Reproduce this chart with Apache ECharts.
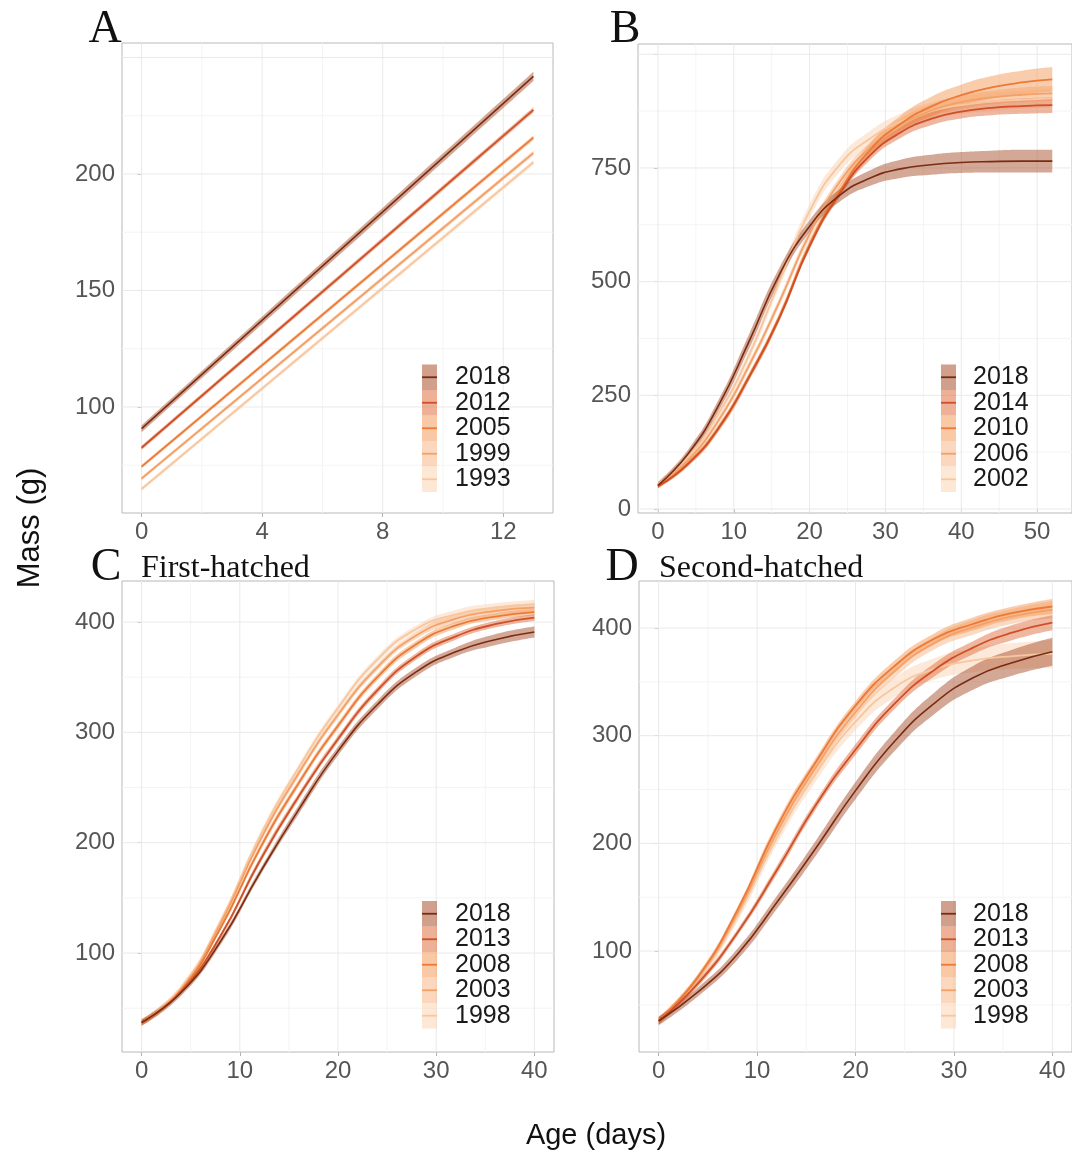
<!DOCTYPE html>
<html>
<head>
<meta charset="utf-8">
<script src="https://cdn.jsdelivr.net/npm/echarts@6/dist/echarts.min.js"></script>
<style>
  html, body { margin: 0; padding: 0; background: #ffffff; }
  #chart { width: 1072px; height: 1154px; }
</style>
</head>
<body>
<div id="chart"></div>
<script>
// Chick growth curves: body mass (g) against age (days), one fitted curve
// per year with its confidence band, in four panels.

// ---- Panel A (linear growth, 0-13 days) ----
const daysA = [0, 13];
const yearsA = [1993, 1999, 2005, 2012, 2018];
const massA1993 = [64.8, 205.0];
const massA1999 = [69.3, 209.0];
const massA2005 = [74.4, 215.6];
const massA2012 = [82.5, 227.5];
const massA2018 = [90.7, 241.9];
const ciA1993 = [0.8, 1.0];
const ciA1999 = [0.8, 1.0];
const ciA2005 = [0.8, 1.0];
const ciA2012 = [0.9, 1.1];
const ciA2018 = [1.5, 2.0];

// ---- Panel B (0-52 days) ----
const daysB = [0, 4, 8, 12, 16, 20, 24, 28, 32, 36, 40, 44, 48, 52];
const yearsB = [2002, 2006, 2010, 2014, 2018];
const massB2002 = [55, 115, 210, 338, 500, 655, 758, 815, 852, 875, 888, 896, 900, 903];
const massB2006 = [52, 108, 195, 315, 455, 605, 720, 795, 845, 876, 895, 905, 911, 914];
const massB2010 = [50, 100, 178, 290, 422, 582, 700, 790, 847, 885, 910, 927, 938, 945];
const massB2014 = [50, 100, 178, 290, 420, 578, 695, 778, 828, 858, 874, 882, 886, 888];
const massB2018 = [52, 122, 228, 368, 515, 622, 690, 728, 748, 757, 762, 764, 765, 765];
const ciB2002 = [6, 7, 9, 11, 13, 15, 16, 17, 18, 19, 19, 20, 20, 20];
const ciB2006 = [5, 6, 7, 8, 9, 10, 11, 12, 13, 14, 15, 15, 16, 16];
const ciB2010 = [5, 6, 8, 9, 9, 10, 12, 15, 18, 21, 23, 25, 26, 27];
const ciB2014 = [4, 5, 6, 7, 7, 7, 8, 10, 12, 14, 15, 16, 17, 17];
const ciB2018 = [7, 9, 12, 16, 15, 13, 14, 17, 20, 22, 23, 24, 25, 25];

// ---- Panel C (first-hatched, 0-40 days) ----
const daysC = [0, 4, 8, 12, 16, 20, 24, 28, 32, 36, 40];
const yearsC = [1998, 2003, 2008, 2013, 2018];
const massC1998 = [37, 68, 128, 205, 268, 322, 366, 394, 407, 413, 416];
const massC2003 = [37, 67, 126, 201, 263, 316, 359, 388, 403, 410, 413];
const massC2008 = [37, 66, 122, 194, 254, 306, 350, 380, 397, 405, 409];
const massC2013 = [37, 65, 115, 183, 242, 294, 338, 369, 387, 398, 404];
const massC2018 = [37, 64, 110, 172, 230, 283, 325, 355, 373, 384, 391];
const ciC1998 = [3, 3, 3, 3, 3, 3, 3, 3, 4, 4, 4];
const ciC2003 = [3, 3, 3, 3, 3, 3, 3, 3, 4, 4, 4];
const ciC2008 = [2, 2, 2, 3, 3, 3, 3, 3, 3, 3, 3];
const ciC2013 = [2, 2, 2, 3, 3, 3, 3, 3, 3, 3, 3];
const ciC2018 = [3, 3, 3, 3, 4, 4, 4, 4, 4, 5, 5];

// ---- Panel D (second-hatched, 0-40 days) ----
const daysD = [0, 4, 8, 12, 16, 20, 24, 28, 32, 36, 40];
const yearsD = [1998, 2003, 2008, 2013, 2018];
const massD1998 = [35, 74, 132, 205, 265, 313, 345, 362, 370, 374, 376];
const massD2003 = [35, 75, 135, 210, 271, 322, 360, 386, 401, 411, 417];
const massD2008 = [35, 76, 138, 215, 276, 328, 365, 390, 404, 414, 420];
const massD2013 = [35, 70, 117, 175, 236, 287, 330, 361, 382, 396, 405];
const massD2018 = [35, 62, 97, 145, 196, 249, 295, 330, 354, 368, 378];
const ciD1998 = [4, 4, 5, 6, 7, 8, 9, 10, 11, 12, 13];
const ciD2003 = [3, 3, 4, 4, 5, 5, 6, 6, 7, 7, 8];
const ciD2008 = [3, 3, 3, 4, 4, 4, 5, 5, 6, 6, 7];
const ciD2013 = [3, 3, 3, 4, 4, 5, 5, 6, 6, 7, 7];
const ciD2018 = [4, 4, 5, 6, 7, 8, 9, 10, 11, 12, 13];

// ---- Axis breaks ----
const xTicksA = [0, 4, 8, 12];
const xMinorA = [2, 6, 10];
const yTicksA = [100, 150, 200, 250];
const yLabelsA = [100, 150, 200];
const yMinorA = [75, 125, 175, 225];

const xTicksB = [0, 10, 20, 30, 40, 50];
const xMinorB = [5, 15, 25, 35, 45];
const yTicksB = [0, 250, 500, 750, 1000];
const yLabelsB = [0, 250, 500, 750];
const yMinorB = [125, 375, 625, 875];

const xTicksCD = [0, 10, 20, 30, 40];
const xMinorCD = [5, 15, 25, 35];
const yTicksCD = [100, 200, 300, 400];
const yMinorCD = [50, 150, 250, 350];

// ---- Styling ----
// oldest -> newest year within a panel
const lineColors = ['#f7c7a0', '#f4a168', '#ec7936', '#cf4f27', '#7a2c12'];
const bandColors = ['#fbd3b3', '#f8b687', '#f49a5a', '#e0703f', '#a9522f'];
const BAND_OPACITY = 0.5;
const SANS = 'Liberation Sans, Arial, sans-serif';
const SERIF = 'Liberation Serif, Times New Roman, serif';
const SMOOTH = 0.5;

const panels = [
  {
    grid: { left: 122, top: 43, width: 431, height: 470 },
    x: { min: -0.65, max: 13.65, ticks: xTicksA, labels: xTicksA, minor: xMinorA },
    y: { min: 54.5, max: 256.2, ticks: yTicksA, labels: yLabelsA, minor: yMinorA },
    days: daysA, years: yearsA,
    mass: [massA1993, massA1999, massA2005, massA2012, massA2018],
    ci: [ciA1993, ciA1999, ciA2005, ciA2012, ciA2018],
    legend: { x: 422, top: 364.5, labelX: 455 }
  },
  {
    grid: { left: 638, top: 44, width: 435, height: 469 },
    x: { min: -2.63, max: 54.6, ticks: xTicksB, labels: xTicksB, minor: xMinorB },
    y: { min: -8.8, max: 1022.6, ticks: yTicksB, labels: yLabelsB, minor: yMinorB },
    days: daysB, years: yearsB,
    mass: [massB2002, massB2006, massB2010, massB2014, massB2018],
    ci: [ciB2002, ciB2006, ciB2010, ciB2014, ciB2018],
    legend: { x: 941, top: 364.5, labelX: 973 }
  },
  {
    grid: { left: 122, top: 581, width: 432, height: 471 },
    x: { min: -2, max: 42, ticks: xTicksCD, labels: xTicksCD, minor: xMinorCD },
    y: { min: 10.3, max: 437.2, ticks: yTicksCD, labels: yTicksCD, minor: yMinorCD },
    days: daysC, years: yearsC,
    mass: [massC1998, massC2003, massC2008, massC2013, massC2018],
    ci: [ciC1998, ciC2003, ciC2008, ciC2013, ciC2018],
    legend: { x: 422, top: 901, labelX: 455 }
  },
  {
    grid: { left: 639, top: 581, width: 433, height: 471 },
    x: { min: -2, max: 42, ticks: xTicksCD, labels: xTicksCD, minor: xMinorCD },
    y: { min: 6.2, max: 443.7, ticks: yTicksCD, labels: yTicksCD, minor: yMinorCD },
    days: daysD, years: yearsD,
    mass: [massD1998, massD2003, massD2008, massD2013, massD2018],
    ci: [ciD1998, ciD2003, ciD2008, ciD2013, ciD2018],
    legend: { x: 941, top: 901, labelX: 973 }
  }
];

const grids = [], xAxes = [], yAxes = [], series = [], graphics = [];

function axisOpt(gi, ax) {
  return {
    type: 'value', gridIndex: gi, min: ax.min, max: ax.max,
    axisLine: { show: false },
    axisTick: { show: true, length: 4, lineStyle: { color: '#b3b3b3', width: 1 }, customValues: ax.ticks },
    axisLabel: { customValues: ax.labels, fontSize: 24, color: '#555555', fontFamily: SANS, margin: 7 },
    splitLine: { show: false }
  };
}

function gridLineSeries(gi, pts, color) {
  return {
    type: 'line', xAxisIndex: gi, yAxisIndex: gi, data: pts, symbol: 'none',
    silent: true, z: 1, lineStyle: { color: color, width: 1 }
  };
}

panels.forEach((p, gi) => {
  grids.push(Object.assign({ show: true, borderColor: '#b8b8b8', borderWidth: 1, backgroundColor: '#ffffff' }, p.grid));
  xAxes.push(axisOpt(gi, p.x));
  yAxes.push(axisOpt(gi, p.y));

  // background grid: minor lines first, then major lines
  const MINOR = '#f4f4f4', MAJOR = '#e9e9e9';
  p.x.minor.forEach(v => series.push(gridLineSeries(gi, [[v, p.y.min], [v, p.y.max]], MINOR)));
  p.y.minor.forEach(v => series.push(gridLineSeries(gi, [[p.x.min, v], [p.x.max, v]], MINOR)));
  p.x.ticks.forEach(v => series.push(gridLineSeries(gi, [[v, p.y.min], [v, p.y.max]], MAJOR)));
  p.y.ticks.forEach(v => series.push(gridLineSeries(gi, [[p.x.min, v], [p.x.max, v]], MAJOR)));

  // confidence bands: an invisible lower edge with the band width stacked on it
  // (values are given as [mass, day] so the stack runs along the mass axis)
  p.mass.forEach((m, k) => {
    const ci = p.ci[k];
    const stack = 'band' + gi + '_' + k;
    const common = {
      type: 'line', xAxisIndex: gi, yAxisIndex: gi, stack: stack, symbol: 'none',
      smooth: SMOOTH, silent: true, z: 2, encode: { x: 1, y: 0 },
      lineStyle: { opacity: 0, width: 0 }
    };
    series.push(Object.assign({}, common, {
      data: p.days.map((d, i) => [m[i] - ci[i], d])
    }));
    series.push(Object.assign({}, common, {
      data: p.days.map((d, i) => [2 * ci[i], d]),
      areaStyle: { color: bandColors[k], opacity: BAND_OPACITY }
    }));
  });

  // fitted curves, newest drawn last
  p.mass.forEach((m, k) => {
    series.push({
      type: 'line', xAxisIndex: gi, yAxisIndex: gi, symbol: 'none',
      smooth: SMOOTH, silent: true, z: 3,
      lineStyle: { color: lineColors[k], width: k === 4 ? 1.6 : 1.8 },
      data: p.days.map((d, i) => [d, m[i]])
    });
  });

  // legend keys: band fill with the curve colour across it, newest at the top
  const keyH = 25.5, keyW = 15;
  for (let j = 0; j < p.years.length; j++) {
    const k = p.years.length - 1 - j;
    const top = p.legend.top + j * keyH;
    graphics.push({
      type: 'rect', silent: true, z: 100,
      shape: { x: p.legend.x, y: top, width: keyW, height: keyH },
      style: { fill: bandColors[k], opacity: 0.55 }
    });
    graphics.push({
      type: 'line', silent: true, z: 101,
      shape: { x1: p.legend.x, y1: top + keyH / 2, x2: p.legend.x + keyW, y2: top + keyH / 2 },
      style: { stroke: lineColors[k], lineWidth: 1.8 }
    });
    graphics.push({
      type: 'text', silent: true, z: 101, x: p.legend.labelX, y: top + keyH / 2,
      style: { text: String(p.years[k]), fontSize: 25, fontFamily: SANS, fill: '#1a1a1a', textAlign: 'left', textVerticalAlign: 'middle' }
    });
  }
});

// panel letters, subtitles and axis titles
const tags = [
  { t: 'A', x: 105, y: 30 }, { t: 'B', x: 625, y: 30 },
  { t: 'C', x: 106, y: 568 }, { t: 'D', x: 622, y: 568 }
];
tags.forEach(g => graphics.push({
  type: 'text', silent: true, z: 101, x: g.x, y: g.y,
  style: { text: g.t, fontSize: 46, fontFamily: SERIF, fill: '#111111', textAlign: 'center', textVerticalAlign: 'middle' }
}));
graphics.push({
  type: 'text', silent: true, z: 101, x: 141, y: 569,
  style: { text: 'First-hatched', fontSize: 32, fontFamily: SERIF, fill: '#111111', textAlign: 'left', textVerticalAlign: 'middle' }
});
graphics.push({
  type: 'text', silent: true, z: 101, x: 659, y: 569,
  style: { text: 'Second-hatched', fontSize: 32, fontFamily: SERIF, fill: '#111111', textAlign: 'left', textVerticalAlign: 'middle' }
});
graphics.push({
  type: 'text', silent: true, z: 101, x: 30, y: 528, rotation: Math.PI / 2,
  style: { text: 'Mass (g)', fontSize: 31, fontFamily: SANS, fill: '#111111', textAlign: 'center', textVerticalAlign: 'middle' }
});
graphics.push({
  type: 'text', silent: true, z: 101, x: 596, y: 1136,
  style: { text: 'Age (days)', fontSize: 29, fontFamily: SANS, fill: '#111111', textAlign: 'center', textVerticalAlign: 'middle' }
});

const chart = echarts.init(document.getElementById('chart'), null, { renderer: 'canvas' });
chart.setOption({
  backgroundColor: '#ffffff',
  animation: false,
  grid: grids,
  xAxis: xAxes,
  yAxis: yAxes,
  series: series,
  graphic: graphics
});
</script>
</body>
</html>
